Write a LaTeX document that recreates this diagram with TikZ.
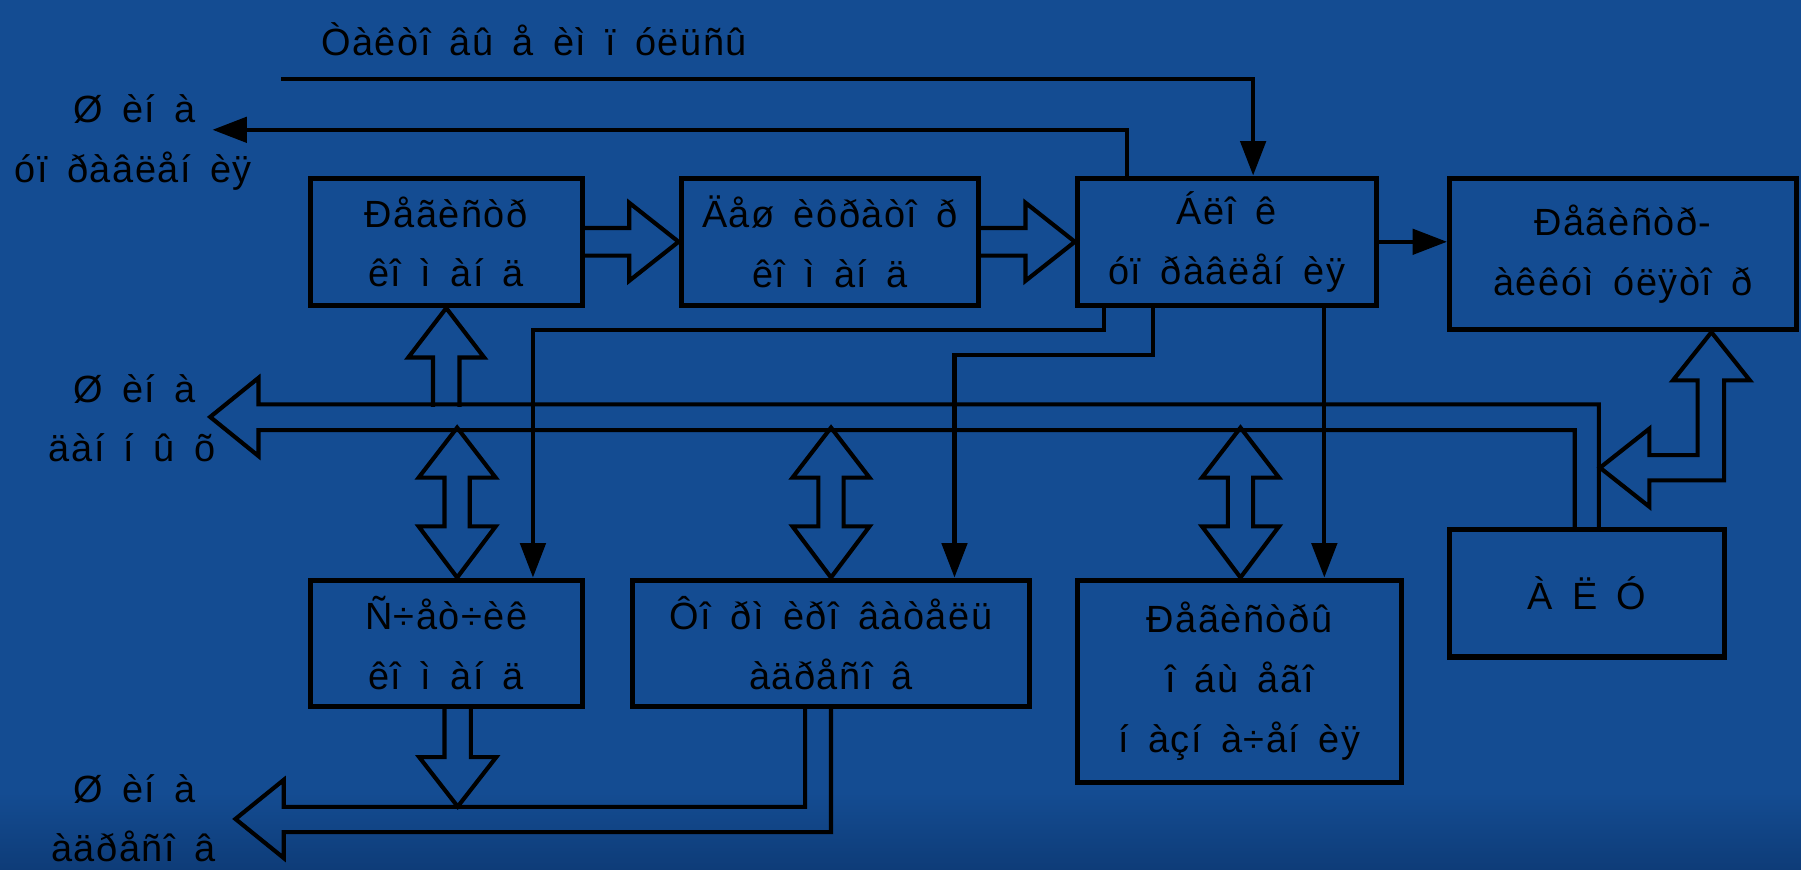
\documentclass[tikz,border=0pt]{standalone}
\usepackage{fontspec}
\setmainfont{Liberation Sans}[LetterSpace=4, WordSpace=1.6]
\usetikzlibrary{arrows.meta,calc}
\definecolor{bg}{RGB}{20,76,146}
\definecolor{bgdark}{RGB}{14,60,120}
\begin{document}
\begin{tikzpicture}[x=0.5pt,y=-0.5pt,
  every node/.style={font=\fontsize{16.5}{26}\selectfont, text=black, inner sep=0pt},
  blk/.style={draw=black, line width=2.2pt, align=center},
  lbl/.style={anchor=base},
  ln/.style={draw=black, line width=1.8pt},
  arr/.style={ln, -{Triangle[length=15pt,width=11pt]}},
  hol/.style={draw=black, line width=1.8pt, line join=miter},
]
\fill[bg] (0,0) rectangle (1568,757);
\shade[top color=bg, bottom color=bgdark] (0,690) rectangle (1568,757);
\useasboundingbox (0,0) rectangle (1568,757);

% boxes
\node[blk, minimum width=118.5pt, minimum height=55.5pt] (b1) at (388.5,210.5) {Ðåãèñòð\\êî ì àí ä};
\node[blk, minimum width=129.5pt, minimum height=55.5pt] (b2) at (722.5,210.5) {Äåø èôðàòî ð\\êî ì àí ä};
\node[blk, minimum width=130pt, minimum height=55.5pt] (b3) at (1068,210.5) {Áëî ê\\óï ðàâëåí èÿ};
\node[blk, minimum width=151pt, minimum height=66pt] (b4) at (1413,221) {Ðåãèñòð-\\àêêóì óëÿòî ð};
\node[blk, minimum width=118.5pt, minimum height=55pt] (b5) at (388.5,560) {Ñ÷åò÷èê\\êî ì àí ä};
\node[blk, minimum width=172.5pt, minimum height=55pt] (b6) at (723.5,560) {Ôî ðì èðî âàòåëü\\àäðåñî â};
\node[blk, minimum width=141pt, minimum height=88pt] (b7) at (1079,593) {Ðåãèñòðû\\î áù åãî\\í àçí à÷åí èÿ};
\node[blk, minimum width=119.5pt, minimum height=55.5pt] (b8) at (1381.5,516.5) {À Ë Ó};

% texts outside boxes
\node[lbl] (title) at (465,48) {Òàêòî âû å èì ï óëüñû};
\node[lbl] (l1a) at (117,107) {Ø èí à};
\node[lbl] (l1b) at (116,159) {óï ðàâëåí èÿ};
\node[lbl] (l2a) at (117,350) {Ø èí à};
\node[lbl] (l2b) at (115,402) {äàí í û õ};
\node[lbl] (l3a) at (117,699) {Ø èí à};
\node[lbl] (l3b) at (116,750) {àäðåñî â};

% clock and control lines
\coordinate (clk) at (245,69);
\coordinate (ctl) at (185,113);
\draw[arr] (clk) -| ($(b3.north)+(23,0)$);
\draw[arr] ($(b3.north)+(-87,0)$) |- (ctl);
\draw[arr] (b3.east) -- (b3.east -| b4.west);

% hollow arrows between upper boxes
\draw[hol] ($(b1.east)+(0,-12)$) -- ($(b2.west)+(-43,-12)$) -- ($(b2.west)+(-43,-34)$) -- (b2.west) -- ($(b2.west)+(-43,34)$) -- ($(b2.west)+(-43,12)$) -- ($(b1.east)+(0,12)$);
\draw[hol] ($(b2.east)+(0,-12)$) -- ($(b3.west)+(-43,-12)$) -- ($(b3.west)+(-43,-34)$) -- (b3.west) -- ($(b3.west)+(-43,34)$) -- ($(b3.west)+(-43,12)$) -- ($(b2.east)+(0,12)$);

% up arrow from bus into b1
\draw[hol] ($(b1.south)+(-11.5,86)$) -- ($(b1.south)+(-11.5,43)$) -- ($(b1.south)+(-33,43)$) -- (b1.south) -- ($(b1.south)+(33,43)$) -- ($(b1.south)+(11.5,43)$) -- ($(b1.south)+(11.5,86)$);

% data bus
\coordinate (dbus) at (183,363);
\draw[hol] ($(b8.north)+(10.5,0)$) |- (225,352) -- (225,329) -- (dbus) -- (225,397) -- (225,374.5) -| ($(b8.north)+(-10.5,0)$);

% register-accumulator double arrow
\coordinate (ra) at ($(b4.south)+(77,0)$);
\draw[hol] (ra) -- ($(ra)+(33.5,42)$) -- ($(ra)+(11,42)$) -- ($(ra)+(11,129)$) -- ($(ra)+(-54,129)$) -- ($(ra)+(-54,152)$) -- ($(ra)+(-97,118)$) -- ($(ra)+(-54,84)$) -- ($(ra)+(-54,107)$) -- ($(ra)+(-12,107)$) -- ($(ra)+(-12,42)$) -- ($(ra)+(-33.5,42)$) -- cycle;

% control lines from block to lower boxes
\draw[arr] ($(b3.south)+(-107,0)$) |- (464,287) -- ($(b5.north)+(75.5,0)$);
\draw[arr] ($(b3.south)+(-64,0)$) |- (831,309) -- ($(b6.north)+(107.5,0)$);
\draw[arr] ($(b3.south)+(85,0)$) -- ($(b7.north)+(74,0)$);

% double hollow arrows bus <-> lower boxes
\foreach \n/\o in {b5/9.5, b6/0, b7/1}{
  \draw[hol] ($(\n.north)+(\o,0)$) -- ++(-33.5,-44.5) -- ++(22.5,0) -- ++(0,-42.5) -- ++(-22.5,0) -- ++(33.5,-43.5) -- ++(33.5,43.5) -- ++(-22.5,0) -- ++(0,42.5) -- ++(22.5,0) -- cycle;
}

% down arrow from b5 to address bus
\draw[hol] ($(b5.south)+(-1.5,0)$) -- ++(0,42) -- ++(-22,0) -- ++(33.5,43) -- ++(33.5,-43) -- ++(-22,0) -- ++(0,-42);

% address bus
\coordinate (abus) at (205,713);
\draw[hol] ($(b6.south)+(-22.5,0)$) |- (247,702.5) -- (247,679) -- (abus) -- (247,747) -- (247,724.5) -| (b6.south);
\end{tikzpicture}
\end{document}
